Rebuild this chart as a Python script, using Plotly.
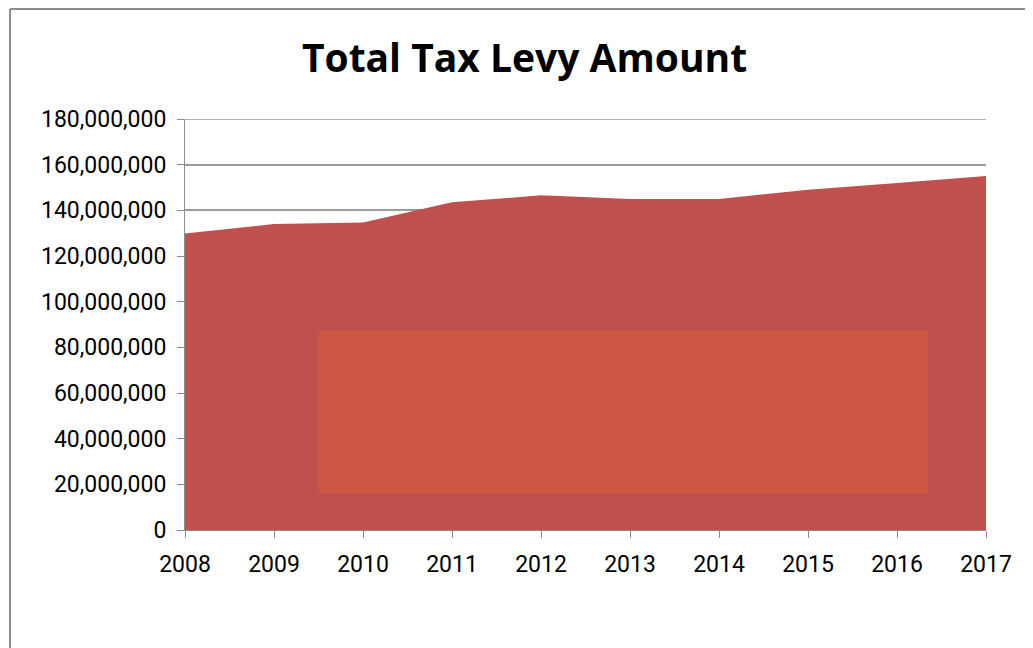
import plotly.graph_objects as go

years = [2008, 2009, 2010, 2011, 2012, 2013, 2014, 2015, 2016, 2017]
levy = [129900000, 134000000, 134700000, 143500000, 146600000,
        145000000, 145000000, 149000000, 152000000, 155000000]
y_ticks = list(range(0, 180000001, 20000000))
y_labels = [f"{v:,}" for v in y_ticks]

fig = go.Figure()
fig.add_trace(go.Scatter(
    x=years, y=levy, mode="lines", fill="tozeroy",
    line=dict(color="#C0504D", width=0), fillcolor="#C0504D",
    hoverinfo="x+y", showlegend=False,
))

# orange overlay rectangle seen in reference
fig.add_shape(type="rect", xref="x", yref="y",
              x0=2009.49, x1=2016.35, y0=16200000, y1=87100000,
              fillcolor="#CD5644", line=dict(width=0), layer="above")
# top gridline at the range edge
fig.add_shape(type="line", xref="paper", yref="y", x0=0, x1=1,
              y0=180000000, y1=180000000,
              line=dict(color="#9A9A9A", width=1.5), layer="below")
# outer chart border (left and top edges only visible)
fig.add_shape(type="line", xref="paper", yref="paper",
              x0=-0.2185, x1=-0.2185, y0=-0.4, y1=1.2675,
              line=dict(color="#8C8C8C", width=2))
fig.add_shape(type="line", xref="paper", yref="paper",
              x0=-0.2185, x1=1.3, y0=1.2675, y1=1.2675,
              line=dict(color="#8C8C8C", width=2))

font_family = "Liberation Sans Narrow, Arial Narrow, Roboto, sans-serif"
fig.update_layout(
    width=1033, height=648,
    margin=dict(l=177, r=55, t=111, b=126),
    paper_bgcolor="white", plot_bgcolor="white",
    title=dict(text="<b>Total Tax Levy Amount</b>", x=0.5, xanchor="center",
               y=0.9228, yanchor="middle",
               font=dict(family="Open Sans, sans-serif", size=39, color="black")),
    font=dict(family=font_family, color="black", size=22),
    xaxis=dict(range=[2008, 2017], tickmode="array", tickvals=years,
               ticktext=[str(y) for y in years],
               showgrid=False, showline=True, linecolor="#8C8C8C", linewidth=1,
               ticks="outside", ticklen=7, tickcolor="#8C8C8C",
               tickfont=dict(size=23), zeroline=False, ticklabelstandoff=6),
    yaxis=dict(range=[0, 180000000], tickmode="array", tickvals=y_ticks,
               ticktext=y_labels, showgrid=True, gridcolor="#9A9A9A", gridwidth=1.5,
               showline=True, linecolor="#8C8C8C", linewidth=1,
               ticks="outside", ticklen=7, tickcolor="#8C8C8C",
               tickfont=dict(size=23), zeroline=False, ticklabelstandoff=6),
)

fig.write_html("out.html")
